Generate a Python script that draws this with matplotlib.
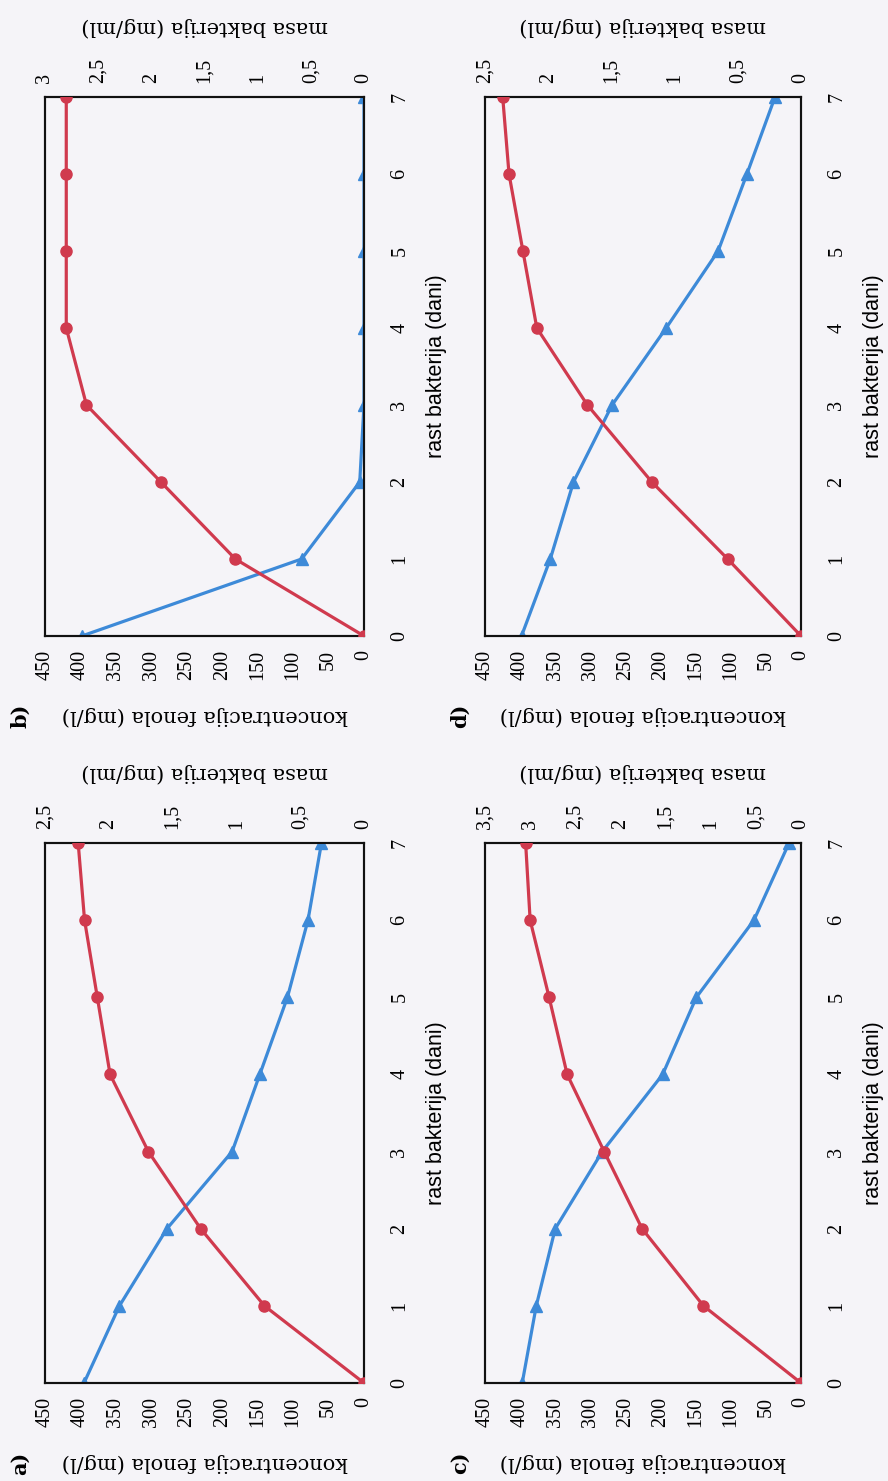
import matplotlib
matplotlib.use("Agg")
import matplotlib.pyplot as plt
from matplotlib.ticker import FixedLocator, FuncFormatter

# the page is scanned rotated: days run bottom -> top, values run right -> left
dani = [0, 1, 2, 3, 4, 5, 6, 7]

# koncentracija fenola (mg/l), blue triangles
fenol_a = [395, 345, 278, 186, 147, 108, 79, 60]
fenol_b = [398, 88, 6, 0, 0, 0, 0, 0]
fenol_c = [397, 377, 350, 283, 197, 149, 67, 17]
fenol_d = [398, 357, 324, 269, 192, 118, 77, 37]

# masa bakterija (mg/ml), red circles
masa_a = [0, 0.78, 1.28, 1.69, 1.99, 2.09, 2.19, 2.24]
masa_b = [0, 1.21, 1.91, 2.61, 2.80, 2.80, 2.80, 2.80]
masa_c = [0, 1.08, 1.76, 2.18, 2.59, 2.79, 3.00, 3.05]
masa_d = [0, 0.58, 1.18, 1.69, 2.09, 2.20, 2.31, 2.36]

fenol_ticks = [0, 50, 100, 150, 200, 250, 300, 350, 400, 450]
masa_top = {"a": 2.5, "b": 3.0, "c": 3.5, "d": 2.5}

W, H = 888, 1481
PAPER = "#f5f4f8"
RED = "#d03a4e"
BLUE = "#3d8ad8"
SERIF = ["DejaVu Serif"]
TICKFONT = ["Liberation Serif", "DejaVu Serif"]
SANS = ["Liberation Sans", "DejaVu Sans"]

# frame boxes in pixels: (left, top, right, bottom)
panels = {
    "b": (45, 97, 364, 636),
    "d": (485, 97, 801, 636),
    "a": (45, 843, 364, 1383),
    "c": (485, 843, 801, 1383),
}
data = {
    "a": (fenol_a, masa_a),
    "b": (fenol_b, masa_b),
    "c": (fenol_c, masa_c),
    "d": (fenol_d, masa_d),
}


def comma(v, pos):
    return f"{v:g}".replace(".", ",")


fig = plt.figure(figsize=(W / 100, H / 100), dpi=100, facecolor=PAPER)

for key, (x0, y0, x1, y1) in panels.items():
    fenol, masa = data[key]
    ax = fig.add_axes([x0 / W, 1 - y1 / H, (x1 - x0) / W, (y1 - y0) / H])
    ax.set_facecolor("none")
    ax.plot(fenol, dani, color=BLUE, lw=2.3, marker="^", ms=8, zorder=3)
    ax.set_xlim(450, 0)
    ax.set_ylim(0, 7)
    ax.xaxis.set_major_locator(FixedLocator(fenol_ticks))
    ax.yaxis.set_major_locator(FixedLocator(dani))
    ax.yaxis.tick_right()
    ax.tick_params(axis="x", length=0, pad=10, labelsize=14.5, labelrotation=90,
                   labelfontfamily=TICKFONT)
    ax.tick_params(axis="y", length=0, pad=19, labelsize=14.5, labelrotation=90,
                   labelfontfamily=TICKFONT)
    for lab in ax.get_yticklabels():
        lab.set_verticalalignment("center")

    ax2 = ax.twiny()
    ax2.plot(masa, dani, color=RED, lw=2.3, marker="o", ms=8, zorder=4)
    top = masa_top[key]
    ax2.set_xlim(top, 0)
    ax2.xaxis.set_major_locator(FixedLocator([i * 0.5 for i in range(int(top * 2) + 1)]))
    ax2.xaxis.set_major_formatter(FuncFormatter(comma))
    ax2.tick_params(axis="x", length=0, pad=10, labelsize=14.5, labelrotation=90,
                    labelfontfamily=TICKFONT)

    for a in (ax, ax2):
        for s in a.spines.values():
            s.set_linewidth(1.5)
            s.set_color("#111111")

    cx = (x0 + x1) / 2
    cy = (y0 + y1) / 2
    fig.text(cx / W, 1 - (y1 + 80) / H, "koncentracija fenola (mg/l)", rotation=180,
             ha="center", va="center", fontsize=15, family=SERIF)
    fig.text(cx / W, 1 - (y0 - 70) / H, "masa bakterija (mg/ml)", rotation=180,
             ha="center", va="center", fontsize=15, family=SERIF)
    fig.text((x1 + 72) / W, 1 - cy / H, "rast bakterija (dani)", rotation=90,
             ha="center", va="center", fontsize=15.5, family=SANS)
    fig.text((x0 - 25) / W, 1 - (y1 + 80) / H, key + ")", rotation=90,
             ha="center", va="center", fontsize=15, family=SERIF, fontweight="bold")

fig.savefig("out.png", dpi=100, facecolor=PAPER)
